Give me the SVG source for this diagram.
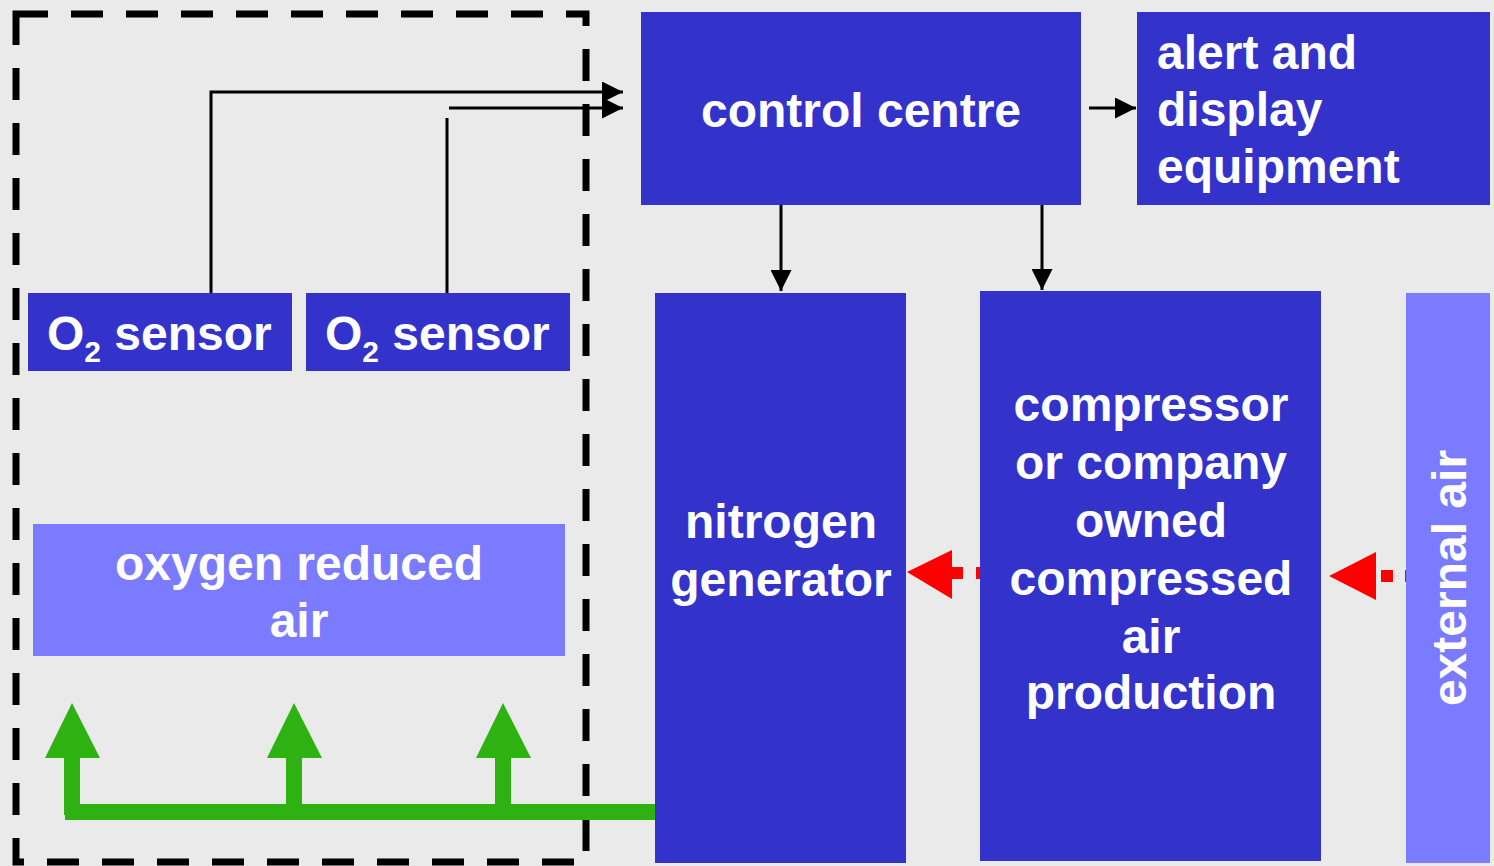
<svg xmlns="http://www.w3.org/2000/svg" width="1494" height="866" viewBox="0 0 1494 866">
<defs>
<style>
.node{fill:#3333CC}
.light{fill:#7B7BFF}
.t{font-family:"Liberation Sans",Arial,sans-serif;font-weight:bold;font-size:48px;fill:#FFFFFF}
.c{text-anchor:middle}
.wire{stroke:#000;stroke-width:3;fill:none}
.green{fill:#2DB212}
.red{fill:#FF0000}
</style>
<marker id="ah" viewBox="0 0 10 10" refX="10" refY="5" markerWidth="7" markerHeight="7" orient="auto" markerUnits="strokeWidth">
<path d="M0,0 L10,5 L0,10 Z" fill="#000"/>
</marker>
</defs>
<rect width="1494" height="866" fill="#EAEAEA"/>
<rect id="boundary" x="16" y="14" width="570" height="848" fill="none" stroke="#000" stroke-width="7" stroke-dasharray="32 23"/>

<g id="connectors">
<polyline class="wire" points="211,293 211,92 623,92" marker-end="url(#ah)"/>
<line class="wire" x1="447" y1="293" x2="447" y2="118"/>
<line class="wire" x1="449" y1="108" x2="623" y2="108" marker-end="url(#ah)"/>
<line class="wire" x1="781" y1="205" x2="781" y2="291" marker-end="url(#ah)"/>
<line class="wire" x1="1042" y1="205" x2="1042" y2="290" marker-end="url(#ah)"/>
<line class="wire" x1="1089" y1="108" x2="1136" y2="108" marker-end="url(#ah)"/>
<polygon class="red" points="907,572 952,550 952,599"/>
<rect class="red" x="952" y="567" width="11" height="12"/>
<rect class="red" x="976" y="567" width="5" height="12"/>
<polygon class="red" points="1329,576 1376,552 1376,600"/>
<rect class="red" x="1381" y="570" width="12" height="12"/>
<rect class="red" x="1405" y="570" width="2" height="12"/>
<rect class="green" x="65" y="804" width="590" height="16"/>
<rect class="green" x="64" y="755" width="16" height="60"/>
<rect class="green" x="286" y="755" width="16" height="60"/>
<rect class="green" x="495" y="755" width="16" height="60"/>
<polygon class="green" points="72,703 45,758 100,758"/>
<polygon class="green" points="294,703 267,758 322,758"/>
<polygon class="green" points="503,703 476,758 531,758"/>
</g>

<g id="control-centre">
<rect class="node" x="641" y="12" width="440" height="193"/>
<text class="t c" x="861" y="127">control centre</text>
</g>
<g id="alert-display">
<rect class="node" x="1137" y="12" width="353" height="193"/>
<text class="t" x="1157" y="69">alert and</text>
<text class="t" x="1157" y="126">display</text>
<text class="t" x="1157" y="183">equipment</text>
</g>
<g id="o2-sensor-1">
<rect class="node" x="28" y="293" width="264" height="78"/>
<text class="t" x="47" y="350">O<tspan font-size="30" dy="12">2</tspan><tspan dy="-12"> sensor</tspan></text>
</g>
<g id="o2-sensor-2">
<rect class="node" x="306" y="293" width="264" height="78"/>
<text class="t" x="325" y="350">O<tspan font-size="30" dy="12">2</tspan><tspan dy="-12"> sensor</tspan></text>
</g>
<g id="oxygen-reduced-air">
<rect class="light" x="33" y="524" width="532" height="132"/>
<text class="t c" x="299" y="580">oxygen reduced</text>
<text class="t c" x="299" y="637">air</text>
</g>
<g id="nitrogen-generator">
<rect class="node" x="655" y="293" width="251" height="570"/>
<text class="t c" x="781" y="538">nitrogen</text>
<text class="t c" x="781" y="596">generator</text>
</g>
<g id="compressor">
<rect class="node" x="980" y="291" width="341" height="570"/>
<text class="t c" x="1151" y="421">compressor</text>
<text class="t c" x="1151" y="479">or company</text>
<text class="t c" x="1151" y="537">owned</text>
<text class="t c" x="1151" y="595">compressed</text>
<text class="t c" x="1151" y="653">air</text>
<text class="t c" x="1151" y="709">production</text>
</g>
<g id="external-air">
<rect class="light" x="1406" y="293" width="84" height="570"/>
<text class="t c" transform="translate(1466,578) rotate(-90)" x="0" y="0">external air</text>
</g>
</svg>
